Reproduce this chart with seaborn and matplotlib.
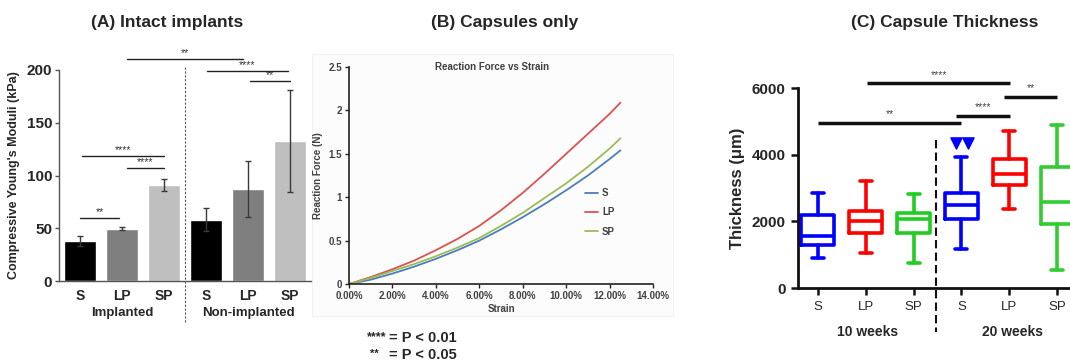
import numpy as np
import pandas as pd
import matplotlib
matplotlib.use("Agg")
import matplotlib.pyplot as plt
import seaborn as sns
from matplotlib.ticker import FuncFormatter

# ---------------- Panel A data ----------------
a_conditions = ["Implanted S", "Implanted LP", "Implanted SP",
                "Non-implanted S", "Non-implanted LP", "Non-implanted SP"]
a_tick_labels = ["S", "LP", "SP", "S", "LP", "SP"]
a_group_labels = ["Implanted", "Non-implanted"]
a_means = [38, 49.5, 91, 58, 87, 133]
a_errors = [5, 1.5, 6, 11, 26.5, 48.5]
a_colors = ["#000000", "#7f7f7f", "#bfbfbf", "#000000", "#7f7f7f", "#bfbfbf"]
a_yticks = [0, 50, 100, 150, 200]
a_sig_x0 = [1.12, 3.02, 4.05, 0.05, 1.12, 0.0]
a_sig_x1 = [3.88, 4.95, 5.0, 2.0, 2.0, 0.93]
a_sig_y = [210.4, 199, 189.6, 118.5, 107, 59.7]
a_sig_labels = ["**", "****", "**", "****", "****", "**"]

# ---------------- Panel B data ----------------
b_strain = [0, 0.01, 0.02, 0.03, 0.04, 0.05, 0.06, 0.07, 0.08, 0.09,
            0.10, 0.11, 0.12, 0.125]
b_S = [0, 0.05, 0.12, 0.20, 0.29, 0.39, 0.50, 0.63, 0.77, 0.92, 1.08, 1.25, 1.44, 1.54]
b_LP = [0, 0.08, 0.17, 0.27, 0.39, 0.52, 0.67, 0.85, 1.05, 1.27, 1.50, 1.73, 1.96, 2.09]
b_SP = [0, 0.07, 0.15, 0.23, 0.32, 0.42, 0.53, 0.67, 0.82, 0.99, 1.16, 1.35, 1.56, 1.68]
b_series = ["S", "LP", "SP"]
b_colors = ["#4a7ebb", "#d9534f", "#9bbb59"]
b_xticks = [0, 0.02, 0.04, 0.06, 0.08, 0.10, 0.12, 0.14]
b_yticks = [0, 0.5, 1, 1.5, 2, 2.5]

# ---------------- Panel C data ----------------
c_tick_labels = ["S", "LP", "SP", "S", "LP", "SP"]
c_group_labels = ["10 weeks", "20 weeks"]
c_whislo = [903, 1063, 762, 1183, 2357, 552]
c_q1 = [1304, 1665, 1655, 2066, 3089, 1906]
c_med = [1575, 2006, 2066, 2487, 3410, 2568]
c_q3 = [2187, 2297, 2257, 2858, 3861, 3621]
c_whishi = [2838, 3210, 2808, 3942, 4714, 4885]
c_colors = ["#0000ff", "#ff0000", "#22cc22", "#0000ff", "#ff0000", "#33cc33"]
c_outlier_vals = [4343, 4343]
c_outlier_group = 3
c_yticks = [0, 2000, 4000, 6000]
c_sig_x0 = [1.03, 3.9, 2.88, 0.0]
c_sig_x1 = [4.02, 5.0, 4.02, 3.0]
c_sig_y = [6141, 5740, 5170, 4960]
c_sig_labels = ["****", "**", "****", "**"]

sns.set_theme(style="white")
plt.rcParams['font.family'] = ['Liberation Sans', 'DejaVu Sans']

fig = plt.figure(figsize=(10.7, 3.61), dpi=100)
fig.patch.set_facecolor("white")

# ================= Panel A =================
axA = fig.add_axes([0.0551, 0.2216, 0.2355, 0.5845])
dfA = pd.DataFrame({"cond": a_conditions, "mean": a_means})
sns.barplot(data=dfA, x="cond", y="mean", hue="cond", order=a_conditions,
            palette=dict(zip(a_conditions, a_colors)), width=0.77,
            errorbar=None, legend=False, saturation=1, ax=axA)
axA.errorbar(np.arange(len(a_means)), a_means, yerr=a_errors, fmt="none",
             ecolor="#3a3a3a", elinewidth=1, capsize=2, capthick=1)
axA.set_xlim(-0.5, 5.5)
axA.set_ylim(0, 200)
axA.set_yticks(a_yticks)
axA.set_yticklabels([str(v) for v in a_yticks], fontsize=11, fontweight="bold")
axA.set_xticks(range(6))
axA.set_xticklabels(a_tick_labels, fontsize=10, fontweight="bold")
axA.tick_params(axis="x", length=0, pad=6)
axA.tick_params(axis="y", direction="out", length=3, width=1, color="#555555", pad=2, left=True)
axA.set_xlabel("")
axA.set_ylabel("Compressive Young's Moduli (kPa)", fontsize=9, fontweight="bold", labelpad=5)
for s in ["top", "right"]:
    axA.spines[s].set_visible(False)
for s in ["left", "bottom"]:
    axA.spines[s].set_color("#555555")
    axA.spines[s].set_linewidth(1)
axA.plot([2.5, 2.5], [203, -39], color="#555555", lw=0.8, ls=(0, (2, 1.5)), clip_on=False)
for gi, g in enumerate(a_group_labels):
    axA.text(1 + 3 * gi, -30.5, g, ha="center", va="center", fontsize=9.5, fontweight="bold")
for x0, x1, y, lab in zip(a_sig_x0, a_sig_x1, a_sig_y, a_sig_labels):
    axA.plot([x0, x1], [y, y], color="#222222", lw=1, clip_on=False)
    axA.text((x0 + x1) / 2, y + 1.0, lab, ha="center", va="bottom", fontsize=7.5,
             color="#333333", clip_on=False)

# ================= Panel B =================
bg = plt.Rectangle((0.292, 0.125), 0.337, 0.725, transform=fig.transFigure,
                   facecolor="#fcfcfc", edgecolor="#f2f2f2", lw=0.8, zorder=-10)
fig.add_artist(bg)
axB = fig.add_axes([0.3262, 0.2133, 0.2841, 0.601])
axB.patch.set_alpha(0)
axB.set_zorder(2)
dfB = pd.DataFrame({
    "strain": b_strain * 3,
    "force": b_S + b_LP + b_SP,
    "series": ["S"] * len(b_strain) + ["LP"] * len(b_strain) + ["SP"] * len(b_strain),
})
sns.lineplot(data=dfB, x="strain", y="force", hue="series", hue_order=b_series,
             palette=dict(zip(b_series, b_colors)), lw=1.3, ax=axB)
axB.set_xlim(0, 0.14)
axB.set_ylim(0, 2.5)
axB.set_xticks(b_xticks)
axB.xaxis.set_major_formatter(FuncFormatter(lambda v, p: f"{v * 100:.2f}%"))
axB.set_yticks(b_yticks)
axB.yaxis.set_major_formatter(FuncFormatter(lambda v, p: f"{v:g}"))
for lab in axB.get_xticklabels() + axB.get_yticklabels():
    lab.set_fontsize(7)
    lab.set_fontweight("bold")
    lab.set_color("#404040")
axB.tick_params(axis="both", direction="out", length=3, width=1, color="#222222", pad=2,
                bottom=True, left=True)
for s in ["top", "right"]:
    axB.spines[s].set_visible(False)
for s in ["left", "bottom"]:
    axB.spines[s].set_color("#222222")
    axB.spines[s].set_linewidth(1.2)
axB.set_xlabel("Strain", fontsize=7, fontweight="bold", color="#404040", labelpad=2)
axB.set_ylabel("Reaction Force (N)", fontsize=7, fontweight="bold", color="#404040", labelpad=4)
axB.text(0.47, 1.0, "Reaction Force vs Strain", transform=axB.transAxes, ha="center",
         va="center", fontsize=7, fontweight="bold", color="#404040")
leg = axB.legend(loc="upper left", bbox_to_anchor=(0.765, 0.46), frameon=False,
                 fontsize=7, handlelength=1.3, labelspacing=0.95, handletextpad=0.4,
                 borderaxespad=0)
for t in leg.get_texts():
    t.set_fontweight("bold")
    t.set_color("#404040")

# P-value key
fig.text(386 / 1070, 1 - 337 / 361, "****", ha="right", va="center", fontsize=9, fontweight="bold")
fig.text(389 / 1070, 1 - 338 / 361, "= P < 0.01", ha="left", va="center", fontsize=10.5, fontweight="bold")
fig.text(374 / 1070, 1 - 354 / 361, "**", ha="center", va="center", fontsize=8, fontweight="bold")
fig.text(389 / 1070, 1 - 355 / 361, "= P < 0.05", ha="left", va="center", fontsize=10.5, fontweight="bold")

# ================= Panel C =================
axC = fig.add_axes([0.7458, 0.2022, 0.2542, 0.554])
stats = []
for i in range(6):
    stats.append(dict(med=c_med[i], q1=c_q1[i], q3=c_q3[i], whislo=c_whislo[i],
                      whishi=c_whishi[i], fliers=[]))
for i in range(6):
    c = c_colors[i]
    lp = dict(color=c, lw=2.6)
    axC.bxp([stats[i]], positions=[i], widths=0.69, capwidths=0.25, showfliers=False,
            boxprops=lp, whiskerprops=lp, capprops=lp, medianprops=lp)
axC.scatter([c_outlier_group - 0.12, c_outlier_group + 0.13], c_outlier_vals, marker="v",
            s=65, color=c_colors[c_outlier_group], zorder=5, clip_on=False)
axC.set_xlim(-0.418, 5.27)
axC.set_ylim(0, 6000)
axC.set_yticks(c_yticks)
axC.set_yticklabels([str(v) for v in c_yticks], fontsize=11, fontweight="bold")
axC.set_xticks(range(6))
axC.set_xticklabels(c_tick_labels, fontsize=9.5)
axC.tick_params(axis="both", direction="out", length=5, width=1.8, color="#111111", pad=4,
                bottom=True, left=True)
for s in ["top", "right"]:
    axC.spines[s].set_visible(False)
for s in ["left", "bottom"]:
    axC.spines[s].set_color("#111111")
    axC.spines[s].set_linewidth(2)
axC.set_ylabel("Thickness (\u03bcm)", fontsize=12, fontweight="bold", labelpad=5)
axC.plot([2.46, 2.46], [4440, -1330], color="#111111", lw=1.5, ls=(0, (4, 2)), clip_on=False)
for gi, g in enumerate(c_group_labels):
    axC.text([1.03, 4.06][gi], -1311, g, ha="center", va="center", fontsize=10, fontweight="bold")
for x0, x1, y, lab in zip(c_sig_x0, c_sig_x1, c_sig_y, c_sig_labels):
    axC.plot([x0, x1], [y, y], color="#111111", lw=2.5, clip_on=False, solid_capstyle="butt")
    axC.text((x0 + x1) / 2, y + 100, lab, ha="center", va="bottom", fontsize=7.5, color="#444444",
             clip_on=False)

# ================= Titles =================
fig.text(167 / 1070, 1 - 22 / 361, "(A) Intact implants", ha="center", va="center",
         fontsize=12.5, fontweight="bold")
fig.text(505 / 1070, 1 - 22 / 361, "(B) Capsules only", ha="center", va="center",
         fontsize=12.5, fontweight="bold")
fig.text(945 / 1070, 1 - 22 / 361, "(C) Capsule Thickness", ha="center", va="center",
         fontsize=12.5, fontweight="bold")

fig.savefig("out.png", dpi=100, facecolor="white")
